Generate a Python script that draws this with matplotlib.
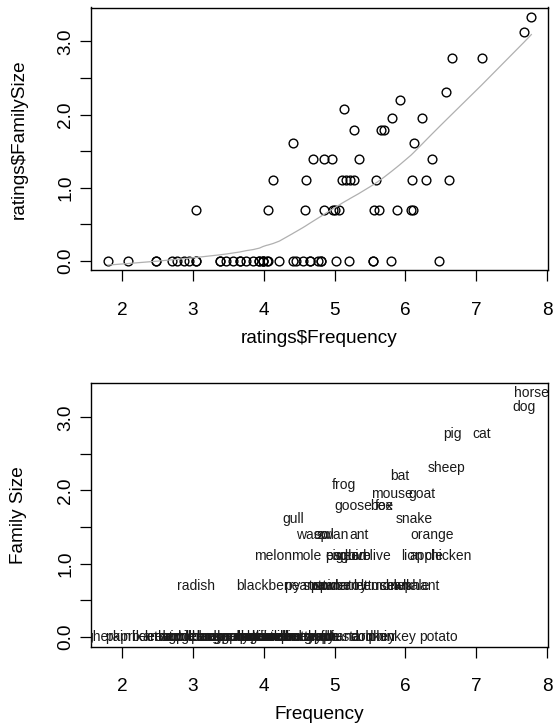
import numpy as np
import matplotlib
matplotlib.use("Agg")
import matplotlib.pyplot as plt

plt.rcParams["font.family"] = ["Liberation Sans", "DejaVu Sans"]

# Word ratings: log frequency and log morphological family size
words = [
    "almond", "ant", "apple", "apricot", "asparagus", "avocado", "banana", "bat",
    "beaver", "bee", "beetroot", "blackberry", "blueberry", "broccoli", "bunny",
    "butterfly", "camel", "carrot", "cat", "cherry", "chicken", "clove", "crocodile",
    "cucumber", "dog", "dolphin", "donkey", "eagle", "eggplant", "elephant", "fox",
    "frog", "gherkin", "goat", "goose", "grape", "gull", "hedgehog", "horse", "kiwi",
    "leek", "lemon", "lettuce", "lion", "magpie", "melon", "mole", "monkey", "moose",
    "mouse", "mushroom", "mustard", "olive", "orange", "owl", "paprika", "peanut",
    "pear", "pig", "pigeon", "pineapple", "potato", "radish", "reindeer", "shark",
    "sheep", "snake", "spider", "squid", "squirrel", "stork", "strawberry", "swan",
    "tomato", "tortoise", "vulture", "walnut", "wasp", "whale", "wolf", "woodpecker",
]
frequency = [
    4.22, 5.34, 6.29, 3.85, 3.66, 3.47, 5.02, 5.92,
    4.06, 5.66, 2.485, 4.06, 3.38, 3.38, 4.55,
    4.65, 4.41, 4.76, 7.08, 4.46, 6.61, 5.28, 3.99,
    3.75, 7.67, 5.54, 5.54, 5.11, 3.57, 6.11, 5.70,
    5.13, 1.80, 6.23, 5.27, 4.81, 4.42, 2.945, 7.78, 3.99,
    2.485, 5.63, 5.56, 6.10, 2.70, 4.13, 4.60, 5.80, 3.94,
    5.81, 4.04, 5.20, 5.59, 6.38, 4.85, 2.085, 4.59,
    4.85, 6.66, 5.16, 4.65, 6.47, 3.04, 2.87, 5.88,
    6.58, 6.12, 4.98, 5.22, 3.99, 2.78, 5.01, 4.97,
    5.06, 3.94, 3.04, 3.66, 4.69, 6.08, 4.81, 3.04,
]
family_size = [
    0.0, 1.386, 1.099, 0.0, 0.0, 0.0, 0.0, 2.197,
    0.0, 1.792, 0.0, 0.693, 0.0, 0.0, 0.0,
    0.0, 0.0, 0.0, 2.773, 0.0, 1.099, 1.099, 0.0,
    0.0, 3.135, 0.0, 0.0, 1.099, 0.0, 0.693, 1.792,
    2.079, 0.0, 1.946, 1.792, 0.0, 1.609, 0.0, 3.332, 0.0,
    0.0, 0.693, 0.693, 1.099, 0.0, 1.099, 1.099, 0.0, 0.0,
    1.946, 0.0, 0.0, 1.099, 1.386, 1.386, 0.0, 0.693,
    0.693, 2.773, 1.099, 0.0, 0.0, 0.693, 0.0, 0.693,
    2.303, 1.609, 0.693, 1.099, 0.0, 0.0, 0.693, 1.386,
    0.693, 0.0, 0.0, 0.0, 1.386, 0.693, 0.0, 0.0,
]

x_ticks = [2, 3, 4, 5, 6, 7, 8]
y_ticks = [0.0, 0.5, 1.0, 1.5, 2.0, 2.5, 3.0]
y_tick_labels = ["0.0", "", "1.0", "", "2.0", "", "3.0"]


def lowess(x, y, f=2 / 3, iters=3):
    """Locally weighted scatterplot smoothing (Cleveland's algorithm)."""
    order = np.argsort(x, kind="stable")
    x = np.asarray(x, float)[order]
    y = np.asarray(y, float)[order]
    n = len(x)
    ns = max(min(int(f * n + 1e-7), n), 2)
    rw = np.ones(n)
    ys = np.zeros(n)
    xrange = x[-1] - x[0]
    for it in range(iters + 1):
        for i in range(n):
            d = np.abs(x - x[i])
            h = np.sort(d)[ns - 1]
            w = np.zeros(n)
            if h > 0:
                r = d / h
                inside = d <= 0.999 * h
                w[inside] = (1 - r[inside] ** 3) ** 3
                w[d <= 0.001 * h] = 1.0
            else:
                w[d == 0] = 1.0
            w *= rw
            sw = w.sum()
            if sw <= 0:
                ys[i] = y[i]
                continue
            w = w / sw
            if h > 0:
                a = np.sum(w * x)
                b = np.sum(w * (x - a) ** 2)
                if np.sqrt(b) > 0.001 * xrange:
                    bb = (x[i] - a) / b
                    w = w * (bb * (x - a) + 1)
            ys[i] = np.sum(w * y)
        if it == iters:
            break
        res = np.abs(y - ys)
        cmad = 6 * np.median(res)
        if cmad < 1e-7 * np.mean(np.abs(y)):
            break
        u = res / cmad
        rw = np.where(u < 1, (1 - u ** 2) ** 2, 0.0)
        rw[res <= 0.001 * cmad] = 1.0
    return x, ys


freq = np.array(frequency)
fam = np.array(family_size)


def padded(v):
    lo, hi = v.min(), v.max()
    r = hi - lo
    return lo - 0.04 * r, hi + 0.04 * r


W, H = 554, 725
fig = plt.figure(figsize=(W / 100, H / 100), dpi=100)

axis_fs = 13.7
word_fs = 10.0


def place_axes(top_px, bottom_px, left_px=91, right_px=548.3):
    return fig.add_axes([left_px / W, 1 - bottom_px / H,
                         (right_px - left_px) / W, (bottom_px - top_px) / H])


def style(ax, xlabel, ylabel, top_px, bottom_px):
    ax.set_xlim(*padded(freq))
    ax.set_ylim(*padded(fam))
    ax.set_xticks(x_ticks)
    ax.set_yticks(y_ticks)
    ax.set_yticklabels(y_tick_labels)
    ax.tick_params(axis="both", direction="out", length=8, width=0.9,
                   labelsize=axis_fs, color="black")
    ax.tick_params(axis="x", pad=15)
    ax.tick_params(axis="y", pad=4)
    for lab in ax.get_yticklabels():
        lab.set_rotation(90)
        lab.set_va("center")
    for s in ax.spines.values():
        s.set_linewidth(1.0)
        s.set_color("black")
    fig.text(319.6 / W, 1 - (bottom_px + 68) / H, xlabel, ha="center",
             va="center", fontsize=axis_fs)
    fig.text(19 / W, 1 - ((top_px + bottom_px) / 2) / H, ylabel, ha="center",
             va="center", rotation=90, fontsize=axis_fs)


# Upper panel: scatter of family size against frequency with a lowess smoother
ax1 = place_axes(7.5, 270.3)
ax1.plot(freq, fam, linestyle="none", marker="o", markersize=6.3,
         markerfacecolor="none", markeredgecolor="black", markeredgewidth=1.0)
lx, ly = lowess(freq, fam)
ax1.plot(lx, ly, color="#b0b0b0", linewidth=0.9)
style(ax1, r"ratings\$Frequency", r"ratings\$FamilySize", 7.5, 270.3)

# Lower panel: the words themselves at their coordinates
ax2 = place_axes(383.3, 646.5)
for w, xv, yv in zip(words, freq, fam):
    ax2.text(xv, yv, w, ha="center", va="center", fontsize=word_fs,
             color="#1a1a1a", clip_on=True)
style(ax2, "Frequency", "Family Size", 383.3, 646.5)

fig.savefig("out.png", dpi=100)
